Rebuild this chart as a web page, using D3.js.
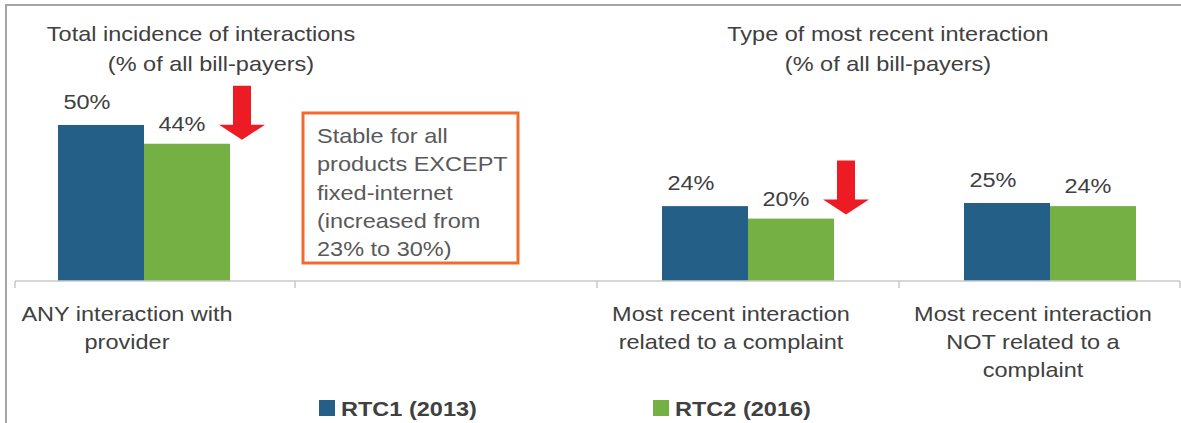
<!DOCTYPE html>
<html>
<head>
<meta charset="utf-8">
<title>Interactions with provider</title>
<style>
  body { margin: 0; background: #fff; }
  svg { display: block; font-family: "Liberation Sans", Arial, sans-serif; }
</style>
</head>
<body>
<div id="chart"></div>
<script src="https://d3js.org/d3.v7.min.js"></script>
<script>
// data
var categories = ["any", "gap", "complaint", "noncomplaint"];
var categoryLabels = [
  ["ANY interaction with", "provider"],
  [],
  ["Most recent interaction", "related to a complaint"],
  ["Most recent interaction", "NOT related to a", "complaint"]
];
var seriesNames = ["RTC1 (2013)", "RTC2 (2016)"];
var rtc1 = [50, null, 24, 25];
var rtc2 = [44, null, 20, 24];
var arrowOn = [true, false, true, false]; // red "down" arrows next to RTC2 bars
var boxLines = ["Stable for all", "products EXCEPT", "fixed-internet", "(increased from", "23% to 30%)"];
var titleLeft = ["Total incidence of interactions", "(% of all bill-payers)"];
var titleRight = ["Type of most recent interaction", "(% of all bill-payers)"];

var width = 1181, height = 423,
    baseY = 281,
    stretch = 1.12, // text in the source is a little wide
    fontSize = 21,
    colors = ["#245F87", "#74B043"],
    textColor = "#404040";

var svg = d3.select("#chart").append("svg")
    .attr("width", width)
    .attr("height", height);

var x = d3.scaleBand().domain(categories).range([-7, 1201]);
var bw = x.bandwidth();
var x1 = d3.scaleBand().domain(seriesNames).range([bw / 2 - 86, bw / 2 + 86]);
var y = d3.scaleLinear().domain([0, 60]).range([baseY, baseY - 187.2]);

// writes stretched text lines; anchor point at (tx, ty)
function label(parent, tx, ty, lines, opts) {
  opts = opts || {};
  var g = parent.append("g")
      .attr("transform", "translate(" + tx + "," + ty + ") scale(" + stretch + ",1)");
  var t = g.append("text")
      .attr("text-anchor", opts.anchor || "middle")
      .attr("fill", opts.color || textColor)
      .style("font-size", (opts.size || fontSize) + "px")
      .style("font-weight", opts.weight || "normal");
  lines.forEach(function(l, i) {
    t.append("tspan").attr("x", 0).attr("y", i * (opts.lh || 28.3)).text(l);
  });
  return g;
}

// outer frame
svg.append("line").attr("x1", 5).attr("x2", width).attr("y1", 5).attr("y2", 5)
    .attr("stroke", "#A6A6A6").attr("stroke-width", 2);
svg.append("line").attr("x1", 6).attr("x2", 6).attr("y1", 4).attr("y2", height)
    .attr("stroke", "#A6A6A6").attr("stroke-width", 2);

// titles
label(svg, 201, 40.5, [titleLeft[0]]);
label(svg, 211, 71, [titleLeft[1]]);
label(svg, 888, 40.5, titleRight, {lh: 30.5});

// bars
var data = categories.map(function(c, i) {
  return {cat: c, vals: [rtc1[i], rtc2[i]], arrow: arrowOn[i]};
});

var groups = svg.selectAll(".cat")
    .data(data)
    .enter().append("g")
    .attr("class", "cat")
    .attr("transform", function(d) { return "translate(" + x(d.cat) + ",0)"; });

groups.selectAll("rect")
    .data(function(d) { return d.vals.map(function(v, i) { return {s: seriesNames[i], v: v, i: i}; })
      .filter(function(e) { return e.v != null; }); })
    .enter().append("rect")
    .attr("x", function(d) { return x1(d.s); })
    .attr("y", function(d) { return y(d.v); })
    .attr("width", x1.bandwidth())
    .attr("height", function(d) { return baseY - y(d.v); })
    .attr("fill", function(d) { return colors[d.i]; });

groups.each(function(d) {
  var g = d3.select(this);
  d.vals.forEach(function(v, i) {
    if (v == null) return;
    var cx = x1(seriesNames[i]) + x1.bandwidth() / 2 + (i === 0 ? -14 : -5);
    label(g, cx, y(v) - (i === 0 ? 16 : 13), [v + "%"]);
  });
  if (d.arrow) {
    var ax = x1(seriesNames[1]) + x1.bandwidth() + 12,
        tip = y(d.vals[1]) - 4;
    var pts = [[ax - 9, tip - 54], [ax + 9, tip - 54], [ax + 9, tip - 15], [ax + 23, tip - 15],
               [ax, tip], [ax - 23, tip - 15], [ax - 9, tip - 15]];
    g.append("polygon").attr("points", pts.map(function(p) { return p.join(","); }).join(" "))
        .attr("fill", "#ED1C24");
  }
  // category labels
  label(g, bw / 2 - 17, 320.5, categoryLabels[categories.indexOf(d.cat)]);
});

// axis line and ticks
svg.append("line").attr("x1", 15).attr("x2", 1180).attr("y1", baseY).attr("y2", baseY)
    .attr("stroke", "#C9C9C9").attr("stroke-width", 1.5);
var tickXs = categories.map(function(c) { return x(c); }).concat([x(categories[3]) + bw])
    .map(function(v) { return Math.max(15, Math.min(1180, v)); });
svg.selectAll(".tick").data(tickXs).enter().append("line")
    .attr("class", "tick")
    .attr("x1", function(d) { return d; }).attr("x2", function(d) { return d; })
    .attr("y1", baseY).attr("y2", baseY + 7)
    .attr("stroke", "#C9C9C9").attr("stroke-width", 1.5);

// annotation box in the empty category
var bx = x("gap") + 8;
svg.append("rect").attr("x", bx).attr("y", 113).attr("width", 215).attr("height", 150)
    .attr("fill", "none").attr("stroke", "#F26A2E").attr("stroke-width", 3);
label(svg, bx + 14, 143, boxLines, {anchor: "start", color: "#595959"});

// legend
var legendX = [319, 653];
seriesNames.forEach(function(s, i) {
  svg.append("rect").attr("x", legendX[i]).attr("y", 400).attr("width", 16).attr("height", 16)
      .attr("fill", colors[i]);
  label(svg, legendX[i] + 22, 416, [s], {anchor: "start", weight: "bold"});
});
</script>
</body>
</html>
